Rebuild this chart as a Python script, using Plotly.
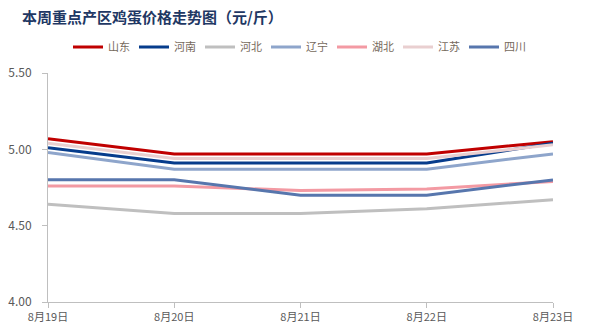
import plotly.graph_objects as go

# Weekly egg prices in key producing provinces (yuan per jin)
dates = ["8月19日", "8月20日", "8月21日", "8月22日", "8月23日"]
shandong = [5.07, 4.97, 4.97, 4.97, 5.05]
henan = [5.01, 4.91, 4.91, 4.91, 5.04]
hebei = [4.64, 4.58, 4.58, 4.61, 4.67]
liaoning = [4.98, 4.87, 4.87, 4.87, 4.97]
hubei = [4.76, 4.76, 4.73, 4.74, 4.79]
jiangsu = [5.04, 4.94, 4.94, 4.94, 5.03]
sichuan = [4.80, 4.80, 4.70, 4.70, 4.80]
y_ticks = [4.00, 4.50, 5.00, 5.50]

series = [
    ("山东", shandong, "#C00000"),
    ("河南", henan, "#063C8C"),
    ("河北", hebei, "#BFBFBF"),
    ("辽宁", liaoning, "#8EA5CB"),
    ("湖北", hubei, "#F39AA3"),
    ("江苏", jiangsu, "#E9CFD0"),
    ("四川", sichuan, "#5776AD"),
]

fig = go.Figure()
for name, vals, color in series:
    fig.add_trace(go.Scatter(
        x=list(range(len(dates))), y=vals, name=name, mode="lines",
        line=dict(color=color, width=3),
    ))

font_cjk = "Noto Sans CJK SC, Noto Sans, sans-serif"

fig.update_layout(
    width=589, height=334,
    margin=dict(l=48, r=36, t=73, b=32, autoexpand=False),
    plot_bgcolor="white", paper_bgcolor="white",
    font=dict(family=font_cjk, color="#595959", size=11),
    title=dict(
        text="<b>本周重点产区鸡蛋价格走势图（元/斤）</b>",
        x=22 / 589, xref="container", xanchor="left",
        y=1 - 18 / 334, yref="container", yanchor="middle",
        font=dict(size=15, color="#1F3864", family=font_cjk),
    ),
    showlegend=True,
    legend=dict(
        orientation="h", x=68 / 589, xref="container",
        y=1 - 47 / 334, yref="container",
        yanchor="middle", xanchor="left",
        entrywidth=21, entrywidthmode="pixels",
        font=dict(size=11, color="#76695C", family=font_cjk),
        tracegroupgap=0, itemwidth=30,
        bgcolor="rgba(0,0,0,0)",
    ),
    xaxis=dict(
        range=[0, len(dates) - 1],
        tickmode="array", tickvals=list(range(len(dates))), ticktext=dates,
        showgrid=False, zeroline=False,
        showline=True, linecolor="#BFBFBF", linewidth=1,
        ticks="outside", ticklen=5, tickcolor="#BFBFBF",
        tickfont=dict(size=11, color="#595959"),
    ),
    yaxis=dict(
        range=[4.0, 5.5],
        tickmode="array", tickvals=y_ticks,
        ticktext=[f"{v:.2f}" for v in y_ticks],
        showgrid=False, zeroline=False,
        showline=True, linecolor="#BFBFBF", linewidth=1,
        ticks="outside", ticklen=5, tickcolor="#BFBFBF",
        ticklabelstandoff=8,
        tickfont=dict(size=12, color="#595959"),
    ),
)

fig.write_html("out.html")
